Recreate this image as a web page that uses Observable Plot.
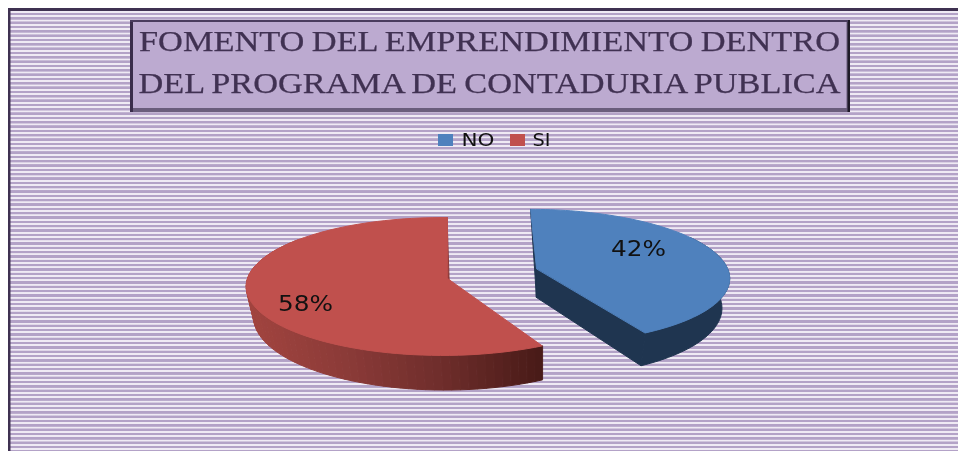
<!DOCTYPE html>
<html>
<head>
<meta charset="utf-8">
<script src="https://cdn.jsdelivr.net/npm/d3@7"></script>
<script src="https://cdn.jsdelivr.net/npm/@observablehq/plot@0.6"></script>
<style>
html,body{margin:0;padding:0;background:#fff;overflow:hidden}
#c svg{display:block;filter:blur(0.45px)}
</style>
</head>
<body>
<div id="c"></div>
<script>
// Data
const categories = ["NO", "SI"];
const percentages = [42, 58];
const titleLines = ["FOMENTO DEL EMPRENDIMIENTO DENTRO", "DEL PROGRAMA DE CONTADURIA PUBLICA"];

// Layout
const W = 958, H = 451, k = 0.116, purple = "#403152";
const colors = {NO: "#4f81bd", SI: "#c0504d"};
const geom = {
  NO: {cx: 536, cy: 268, ax: 536, A: 66, B: 191, shear: 0.1, rot: 0, shrink: 0.96, anchor: 536, depth: 29, labelX: 638, labelY: 248, swatch: 438, text: 461, textW: 33},
  SI: {cx: 442, cy: 278, ax: 447, A: 68, B: 195, shear: 0, rot: 1.5, shrink: 0.975, anchor: 541, depth: 30, labelX: 305, labelY: 303, swatch: 510, text: 532, textW: 18}
};

// Pie angles from values (clockwise from the top)
const total = d3.sum(percentages);
let acc = 0;
const slices = categories.map((c, i) => {
  const s = {name: c, value: percentages[i], a0: acc / total * 2 * Math.PI};
  acc += percentages[i];
  s.a1 = acc / total * 2 * Math.PI;
  return s;
});

function rim(g, theta) {
  const t = theta + g.rot * Math.PI / 180;
  const u = Math.sin(t), v = -Math.cos(t), w = 1 - k * v;
  const ry = g.A * v / w;
  return {x: g.cx + g.B * u / w + g.shear * ry, y: g.cy + ry};
}
const lower = (g, p) => ({x: g.anchor + (p.x - g.anchor) * g.shrink, y: p.y + g.depth + 0.06 * (p.y - g.cy)});
const arc = (s, n) => d3.range(n + 1).map(i => s.a0 + (s.a1 - s.a0) * i / n);

// Polygons built from the slice angles
const polys = [];
let nextId = 0;
function poly(pts, fill, name) {
  const id = nextId++;
  pts.forEach(p => polys.push({id, x: p.x, y: p.y, fill, name}));
}
const redWall = d3.scaleLinear().domain([250, 345, 443, 541]).range(["#a2443f", "#8c3b38", "#6e2d2b", "#481a17"]);
slices.forEach(s => {
  const g = geom[s.name], n = 90, angles = arc(s, n);
  const apex = {x: g.ax, y: g.cy};
  const rimPts = angles.map(a => rim(g, a));
  if (s.name === "NO") {
    // only the front of the rim shows a wall
    const front = rimPts.filter((p, i) => angles[i] > Math.PI / 3);
    const start = rimPts[0], tip = rimPts[n], la = {x: apex.x, y: apex.y + g.depth}, lt = lower(g, tip);
    poly([start, apex, la], "#1f3550", s.name);
    poly([apex, tip, lt, la], "#1f3550", s.name);
    poly([...front, ...front.map(p => lower(g, p)).reverse()], "#1f3550", s.name);
  } else {
    rimPts.slice(0, -1).forEach((p, i) => {
      if (angles[i] > 1.7 * Math.PI) return; // back of the rim is hidden
      const q = rimPts[i + 1], lp = lower(g, p), lq = lower(g, q);
      poly([p, q, lq, lp], redWall((lp.x + lq.x) / 2), s.name);
    });
    const start = rimPts[n];
    poly([start, apex, {x: apex.x + 2.5, y: apex.y + g.depth}], "#8f3a37", s.name);
  }
  // top face
  poly([apex, ...rimPts], colors[s.name], s.name);
});

const swatches = categories.map(c => ({c, x1: geom[c].swatch, x2: geom[c].swatch + 15, fill: colors[c]}));

const chrome = [
  {x1: 0, x2: W, y1: 0, y2: 8, fill: "#fff"},
  {x1: 0, x2: 8, y1: 0, y2: H, fill: "#fff"},
  {x1: 8, x2: W, y1: 8, y2: 11, fill: "#3f3151"},
  {x1: 8, x2: 10.5, y1: 8, y2: H, fill: "#3f3151"},
  {x1: 130, x2: 850, y1: 20, y2: 112, fill: "#6a5d7c"},
  {x1: 130, x2: 133, y1: 20, y2: 112, fill: "#3a2d4b"},
  {x1: 847.5, x2: 850, y1: 20, y2: 112, fill: "#1f1a28"},
  {x1: 130, x2: 848, y1: 20, y2: 22, fill: "#4a3c5e"},
  {x1: 133, x2: 846.5, y1: 22, y2: 108, fill: "#bcaad0"}
];

const textWidths = new Map([
  [titleLines[0], 701], [titleLines[1], 702],
  ...categories.map(c => [c, geom[c].textW]),
  ...percentages.map(p => [p + "%", 55])
]);

const plot = Plot.plot({
  width: W, height: H, margin: 0,
  style: {background: "repeating-linear-gradient(to bottom,#b3a2c7 0,#b3a2c7 2.1px,#efeaf4 2.4px,#efeaf4 4px,#b3a2c7 4.33px)"},
  x: {domain: [0, W], range: [0, W], axis: null},
  y: {domain: [0, H], range: [0, H], axis: null},
  marks: [
    Plot.rect(chrome, {x1: "x1", x2: "x2", y1: "y1", y2: "y2", fill: d => d.fill, inset: 0}),
    Plot.rect(swatches, {x1: "x1", x2: "x2", y1: () => 134, y2: () => 146, fill: d => d.fill}),
    Plot.line(polys, {x: "x", y: "y", z: "id", fill: "fill", stroke: "fill", strokeWidth: 1, curve: "linear-closed"}),
    Plot.text(titleLines, {x: () => 489, y: (d, i) => [41.5, 83.5][i], text: d => d, fontFamily: "Liberation Serif", fontSize: 29, fill: purple, stroke: purple, strokeWidth: 0.25}),
    Plot.text(categories, {x: d => geom[d].text, y: () => 140, text: d => d, textAnchor: "start", fontFamily: "DejaVu Sans", fontSize: 17, fill: "#111"}),
    Plot.text(slices, {x: d => geom[d.name].labelX, y: d => geom[d.name].labelY, text: d => d.value + "%", fontFamily: "DejaVu Sans", fontSize: 22, fill: "#111"})
  ]
});
d3.select(plot).selectAll("text").each(function () {
  const w = textWidths.get(this.textContent);
  if (w) {
    this.setAttribute("textLength", w);
    this.setAttribute("lengthAdjust", "spacingAndGlyphs");
    if (w > 100) this.style.wordSpacing = "-1px";
  }
});
document.getElementById("c").append(plot);
</script>
</body>
</html>
